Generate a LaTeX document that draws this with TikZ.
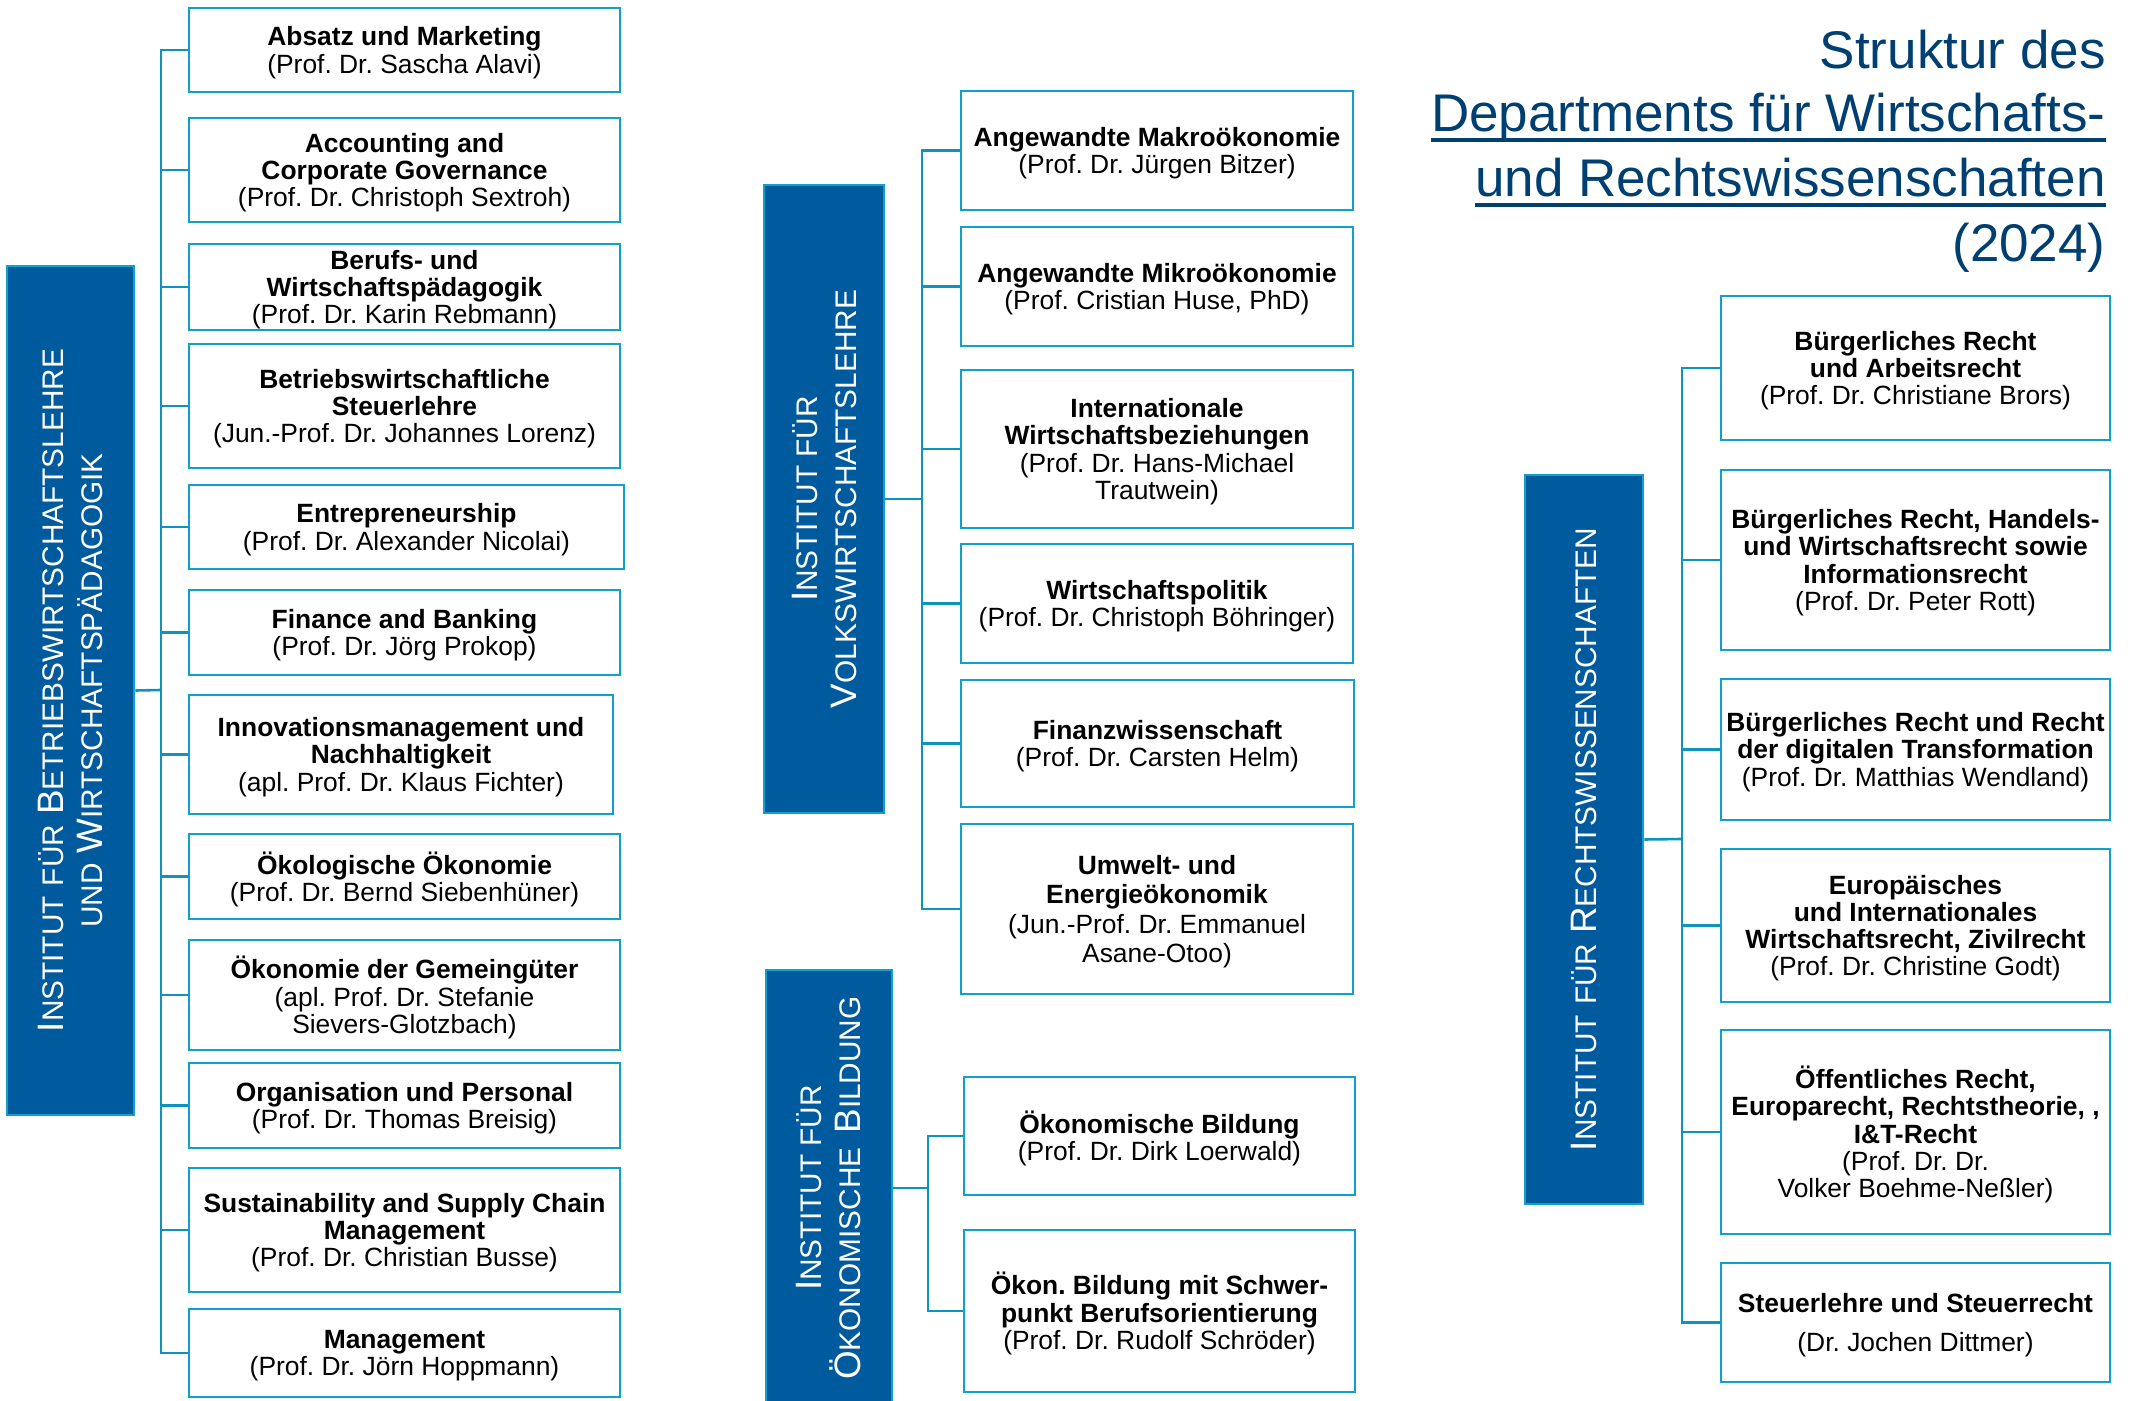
\documentclass[tikz,border=0pt]{standalone}
\usepackage{fontspec}
\setmainfont{Liberation Sans}
\frenchspacing
\definecolor{instblue}{RGB}{0,90,158}
\definecolor{boxline}{RGB}{16,160,204}
\definecolor{connc}{RGB}{14,146,190}
\definecolor{titlec}{RGB}{0,63,114}
\newcommand\Bg[1]{{\fontsize{18.4}{19.5}\selectfont #1}}
\newcommand\Sp{\hspace{5pt}}
\newcommand\obox[7][ubox]{\node[#1, minimum width={(#5-#3)*0.5pt}, minimum height={(#6-#4)*0.5pt}] (#2) at ({(#3+#5)/2},{(#4+#6)/2}) {};
  \node[boxtext] (#2t) at ([yshift=-1.3pt]#2.center) {#7};}
\begin{document}
\begin{tikzpicture}[x=0.5pt,y=-0.5pt,
  ubox/.style={draw=boxline, line width=1.3pt, fill=white, inner sep=0pt},
  boxtext/.style={align=center, inner sep=0pt, text=black, font=\fontsize{13.2}{13.6}\selectfont},
  inst/.style={draw=boxline, fill=instblue, line width=1.3pt, inner sep=0pt},
  instlabel/.style={rotate=90, text=white, align=center, inner sep=0pt, font=\fontsize{14.9}{19.5}\selectfont},
  conn/.style={draw=connc, line width=1.3pt},
  ttl/.style={anchor=base east, inner sep=0pt, text=titlec, font=\fontsize{26.5}{32}\selectfont},
  uline/.style={draw=titlec, line width=1.6pt}]
\useasboundingbox (0,0) rectangle (2133,1401);

% ---------- title ----------
\node[ttl] (t1) at (2106,69) {Struktur des};
\node[ttl] (t2) at (2106,132) {Departments für Wirtschafts-};
\node[ttl] (t3) at (2106,197) {und Rechtswissenschaften};
\node[ttl] (t4) at (2106,262) {(2024)};
\draw[uline] ([yshift=-4pt]t2.base west) -- ([yshift=-4pt]t2.base east);
\draw[uline] ([yshift=-4pt]t3.base west) -- ([yshift=-4pt]t3.base east);

% ---------- institutes ----------
\obox[inst]{i1}{7}{266}{134}{1115}{}
\obox[inst]{i2}{764}{185}{884}{813}{}
\obox[inst]{i3}{766}{970}{892}{1406}{}
\obox[inst]{i4}{1525}{475}{1643}{1204}{}
\node[instlabel] (l1) at (i1.center) {\Bg{I}NSTITUT\Sp FÜR\Sp\Bg{B}ETRIEBSWIRTSCHAFTSLEHRE\\UND\Sp\Bg{W}IRTSCHAFTSPÄDAGOGIK};
\node[instlabel] (l2) at (i2.center) {\Bg{I}NSTITUT FÜR\\\Bg{V}OLKSWIRTSCHAFTSLEHRE};
\node[instlabel] (l3) at (i3.center) {\Bg{I}NSTITUT FÜR\\\Bg{Ö}KONOMISCHE\hspace{7pt}\Bg{B}ILDUNG};
\node[instlabel] (l4) at (i4.center) {\Bg{I}NSTITUT\Sp FÜR\Sp\Bg{R}ECHTSWISSENSCHAFTEN};

% ---------- left column ----------
\obox{a1}{189}{8}{620}{92}{\textbf{Absatz und Marketing}\\(Prof. Dr. Sascha Alavi)}
\obox{a2}{189}{118}{620}{222}{\textbf{Accounting and}\\\textbf{Corporate Governance}\\(Prof. Dr. Christoph Sextroh)}
\obox{a3}{189}{244}{620}{330}{\textbf{Berufs- und}\\\textbf{Wirtschaftspädagogik}\\(Prof. Dr. Karin Rebmann)}
\obox{a4}{189}{344}{620}{468}{\textbf{Betriebswirtschaftliche}\\\textbf{Steuerlehre}\\(Jun.-Prof. Dr. Johannes Lorenz)}
\obox{a5}{189}{485}{624}{569}{\textbf{Entrepreneurship}\\(Prof. Dr. Alexander Nicolai)}
\obox{a6}{189}{590}{620}{675}{\textbf{Finance and Banking}\\(Prof. Dr. Jörg Prokop)}
\obox{a7}{189}{695}{613}{814}{\textbf{Innovationsmanagement und}\\\textbf{Nachhaltigkeit}\\(apl. Prof. Dr. Klaus Fichter)}
\obox{a8}{189}{834}{620}{919}{\textbf{Ökologische Ökonomie}\\(Prof. Dr. Bernd Siebenhüner)}
\obox{a9}{189}{940}{620}{1050}{\textbf{Ökonomie der Gemeingüter}\\(apl. Prof. Dr. Stefanie\\Sievers-Glotzbach)}
\obox{a10}{189}{1063}{620}{1148}{\textbf{Organisation und Personal}\\(Prof. Dr. Thomas Breisig)}
\obox{a11}{189}{1168}{620}{1292}{\textbf{Sustainability and Supply Chain}\\\textbf{Management}\\(Prof. Dr. Christian Busse)}
\obox{a12}{189}{1309}{620}{1397}{\textbf{Management}\\(Prof. Dr. Jörn Hoppmann)}

% ---------- middle column ----------
\obox{b1}{961}{91}{1353}{210}{\textbf{Angewandte Makroökonomie}\\(Prof. Dr. Jürgen Bitzer)}
\obox{b2}{961}{227}{1353}{346}{\textbf{Angewandte Mikroökonomie}\\(Prof. Cristian Huse, PhD)}
\obox{b3}{961}{370}{1353}{528}{\textbf{Internationale}\\\textbf{Wirtschaftsbeziehungen}\\(Prof. Dr. Hans-Michael\\Trautwein)}
\obox{b4}{961}{544}{1353}{663}{\textbf{Wirtschaftspolitik}\\(Prof. Dr. Christoph Böhringer)}
\obox{b5}{961}{680}{1354}{807}{\textbf{Finanzwissenschaft}\\(Prof. Dr. Carsten Helm)}
\obox{b6}{961}{824}{1353}{994}{\textbf{Umwelt- und}\\[1pt]\textbf{Energieökonomik}\\[1pt](Jun.-Prof. Dr. Emmanuel\\[1pt]Asane-Otoo)}

\obox{c1}{964}{1077}{1355}{1195}{\textbf{Ökonomische Bildung}\\(Prof. Dr. Dirk Loerwald)}
\obox{c2}{964}{1230}{1355}{1392}{\textbf{Ökon. Bildung mit Schwer-}\\\textbf{punkt Berufsorientierung}\\(Prof. Dr. Rudolf Schröder)}

% ---------- right column ----------
\obox{d1}{1721}{296}{2110}{440}{\textbf{Bürgerliches Recht}\\\textbf{und Arbeitsrecht}\\(Prof. Dr. Christiane Brors)}
\obox{d2}{1721}{470}{2110}{650}{\textbf{Bürgerliches Recht, Handels-}\\\textbf{und Wirtschaftsrecht sowie}\\\textbf{Informationsrecht}\\(Prof. Dr. Peter Rott)}
\obox{d3}{1721}{679}{2110}{820}{\textbf{Bürgerliches Recht und Recht}\\\textbf{der digitalen Transformation}\\(Prof. Dr. Matthias Wendland)}
\obox{d4}{1721}{849}{2110}{1002}{\textbf{Europäisches}\\\textbf{und Internationales}\\\textbf{Wirtschaftsrecht, Zivilrecht}\\(Prof. Dr. Christine Godt)}
\obox{d5}{1721}{1030}{2110}{1234}{\textbf{Öffentliches Recht,}\\\textbf{Europarecht, Rechtstheorie, ,}\\\textbf{I\&T-Recht}\\(Prof. Dr. Dr.\\Volker Boehme-Neßler)}
\obox{d6}{1721}{1263}{2110}{1382}{\textbf{Steuerlehre und Steuerrecht}\\[6pt](Dr. Jochen Dittmer)}

% ---------- connectors ----------
\coordinate (j1) at (161,690);
\coordinate (j2) at (922,499);
\coordinate (j3) at (928,1188);
\coordinate (j4) at (1682,839);

\draw[conn] (i1.east) -- (j1);
\draw[conn] (a1.west) -- (j1 |- a1.west) -- (j1 |- a12.west) -- (a12.west);
\foreach \n in {a2,a3,a4,a5,a6,a7,a8,a9,a10,a11}
  \draw[conn] (j1 |- \n.west) -- (\n.west);

\draw[conn] (i2.east) -- (j2);
\draw[conn] (b1.west) -- (j2 |- b1.west) -- (j2 |- b6.west) -- (b6.west);
\foreach \n in {b2,b3,b4,b5}
  \draw[conn] (j2 |- \n.west) -- (\n.west);

\draw[conn] (i3.east) -- (j3);
\draw[conn] (c1.west) -- (j3 |- c1.west) -- (j3 |- c2.west) -- (c2.west);

\draw[conn] (i4.east) -- (j4);
\draw[conn] (d1.west) -- (j4 |- d1.west) -- (j4 |- d6.west) -- (d6.west);
\foreach \n in {d2,d3,d4,d5}
  \draw[conn] (j4 |- \n.west) -- (\n.west);
\end{tikzpicture}
\end{document}
